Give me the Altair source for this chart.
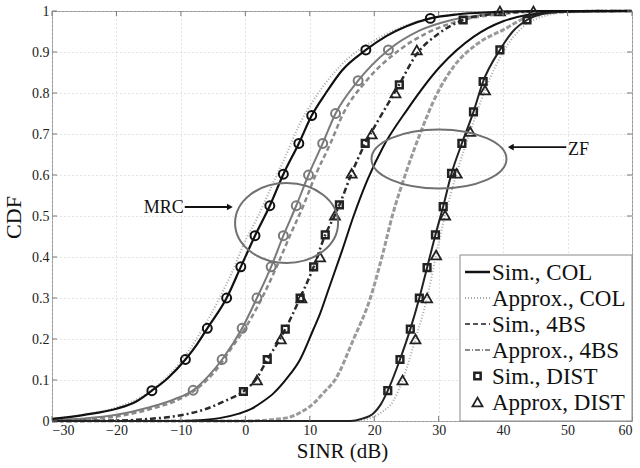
import altair as alt
import pandas as pd

FONT = "Liberation Serif"

# ---------------- data ----------------
x_ticks = [-30, -20, -10, 0, 10, 20, 30, 40, 50, 60]
y_ticks = [0, 0.1, 0.2, 0.3, 0.4, 0.5, 0.6, 0.7, 0.8, 0.9, 1.0]

# MRC, collocated - simulation (black solid, circles)
mrc_col_sim_x = [-30, -25, -20, -17, -14.5, -12, -9.3, -7.5, -5.9, -2.9, -0.7, 1.5, 3.8, 5.9, 8.3, 10.3, 12.5, 15, 18.7, 22, 25, 28.7, 33, 38, 45, 60]
mrc_col_sim_y = [0.005, 0.015, 0.03, 0.047, 0.074, 0.105, 0.15, 0.187, 0.226, 0.3, 0.376, 0.452, 0.525, 0.602, 0.677, 0.745, 0.8, 0.855, 0.905, 0.94, 0.963, 0.982, 0.992, 0.997, 1.0, 1.0]
mrc_col_mk_x = [-14.5, -9.3, -5.9, -2.9, -0.7, 1.5, 3.8, 5.9, 8.3, 10.3, 18.7, 28.7]
mrc_col_mk_y = [0.074, 0.15, 0.226, 0.3, 0.376, 0.452, 0.525, 0.602, 0.677, 0.745, 0.905, 0.982]

# MRC, collocated - approximation (dotted light gray)
mrc_col_apx_x = [-30, -25, -20, -15, -10, -7, -4, -2, 0, 2, 4, 6.3, 8.3, 10.5, 13, 16, 20, 25, 30, 36, 45, 60]
mrc_col_apx_y = [0.005, 0.016, 0.033, 0.07, 0.145, 0.215, 0.3, 0.365, 0.44, 0.5, 0.57, 0.648, 0.72, 0.78, 0.835, 0.885, 0.928, 0.965, 0.986, 0.996, 1.0, 1.0]

# MRC, 4BS - gray solid with gray circles
mrc_4bs_x = [-30, -25, -20, -15, -11, -8.1, -5.7, -3.6, -0.5, 1.8, 4.0, 5.9, 7.9, 9.8, 12.0, 14.0, 17.5, 22.2, 27, 32, 38, 45, 60]
mrc_4bs_y = [0.002, 0.006, 0.015, 0.033, 0.053, 0.075, 0.11, 0.15, 0.226, 0.3, 0.376, 0.452, 0.525, 0.6, 0.677, 0.75, 0.83, 0.905, 0.952, 0.978, 0.993, 0.999, 1.0]
mrc_4bs_mk_x = [-8.1, -3.6, -0.5, 1.8, 4.0, 5.9, 7.9, 9.8, 12.0, 14.0, 17.5, 22.2]
mrc_4bs_mk_y = [0.075, 0.15, 0.226, 0.3, 0.376, 0.452, 0.525, 0.6, 0.677, 0.75, 0.83, 0.905]

# MRC, 4BS - gray dashed
mrc_4bs_d_x = [-30, -25, -20, -15, -10, -7, -4.5, -2.5, 0.5, 2.9, 5.1, 7.0, 9.0, 10.9, 13.2, 15.2, 18.8, 23.5, 28, 33, 40, 47, 60]
mrc_4bs_d_y = [0.001, 0.004, 0.011, 0.028, 0.055, 0.085, 0.125, 0.17, 0.24, 0.31, 0.385, 0.455, 0.525, 0.6, 0.677, 0.75, 0.83, 0.9, 0.945, 0.975, 0.993, 0.999, 1.0]

# MRC, distributed - dash-dot dark with squares / triangles
mrc_dist_x = [-30, -20, -15, -10, -6, -3, -0.3, 1.8, 3.4, 5.0, 6.2, 8.5, 10.6, 12.4, 13.9, 14.6, 16.5, 18.6, 20.5, 23.5, 26.6, 30, 33.8, 38, 45, 60]
mrc_dist_y = [0.0, 0.001, 0.005, 0.014, 0.03, 0.05, 0.072, 0.105, 0.15, 0.19, 0.224, 0.3, 0.376, 0.454, 0.502, 0.527, 0.604, 0.677, 0.73, 0.81, 0.895, 0.945, 0.978, 0.992, 0.999, 1.0]
mrc_dist_sq_x = [-0.3, 3.4, 6.2, 8.5, 10.6, 12.4, 14.6, 18.6, 23.9, 33.8]
mrc_dist_sq_y = [0.072, 0.15, 0.224, 0.3, 0.376, 0.454, 0.527, 0.677, 0.82, 0.978]
mrc_dist_tr_x = [1.8, 5.5, 8.7, 11.6, 13.9, 16.5, 19.6, 23.3, 26.6, 39.5]
mrc_dist_tr_y = [0.1, 0.2, 0.3, 0.4, 0.502, 0.604, 0.70, 0.80, 0.905, 1.0]

# ZF, collocated - black solid
zf_col_x = [-30, -10, -7, -4, -1, 1, 2.5, 4.4, 6.5, 8.5, 10.6, 11.6, 13, 15, 16.8, 19, 21.4, 25.1, 30.2, 35.4, 40, 43.7, 50, 60]
zf_col_y = [0.0, 0.0, 0.002, 0.007, 0.018, 0.03, 0.045, 0.068, 0.105, 0.15, 0.225, 0.262, 0.325, 0.415, 0.5, 0.59, 0.669, 0.759, 0.864, 0.937, 0.975, 0.99, 0.999, 1.0]

# ZF, 4BS - gray thick dashed
zf_4bs_x = [-30, 0, 4, 7, 9, 10.6, 12.2, 13.9, 16.8, 19.4, 21.2, 22.8, 24.8, 27.1, 29.5, 32.3, 36, 40, 44.7, 50, 60]
zf_4bs_y = [0.0, 0.0, 0.003, 0.01, 0.025, 0.043, 0.07, 0.1, 0.2, 0.3, 0.4, 0.5, 0.6, 0.7, 0.79, 0.864, 0.92, 0.954, 0.99, 0.998, 1.0]

# ZF, distributed - black solid with squares, dotted approx with triangles
zf_dist_x = [-30, 16.3, 18, 19.9, 21, 22.1, 24.0, 25.6, 27.0, 28.2, 29.5, 30.7, 32.0, 33.6, 35.4, 36.9, 39.5, 41.5, 43.7, 47, 52, 60]
zf_dist_y = [0.0, 0.0, 0.005, 0.019, 0.04, 0.074, 0.15, 0.224, 0.3, 0.374, 0.454, 0.523, 0.604, 0.677, 0.754, 0.828, 0.905, 0.95, 0.978, 0.995, 1.0, 1.0]
zf_dist_sq_x = [22.1, 24.0, 25.6, 27.0, 28.2, 29.5, 30.7, 32.0, 33.6, 35.4, 36.9, 39.5, 43.7]
zf_dist_sq_y = [0.074, 0.15, 0.224, 0.3, 0.374, 0.454, 0.523, 0.604, 0.677, 0.754, 0.828, 0.905, 0.978]
zf_dist_apx_x = [-30, 17, 19, 21, 23, 24.4, 26.4, 28.2, 29.6, 31, 32.8, 34.9, 37.2, 40, 43, 47, 52, 60]
zf_dist_apx_y = [0, 0, 0.005, 0.02, 0.05, 0.1, 0.2, 0.3, 0.405, 0.502, 0.604, 0.706, 0.807, 0.9, 0.96, 0.99, 1.0, 1.0]
zf_dist_tr_x = [24.4, 26.4, 28.2, 29.6, 31, 32.8, 34.9, 37.2, 44.7]
zf_dist_tr_y = [0.1, 0.2, 0.3, 0.405, 0.502, 0.604, 0.706, 0.807, 1.0]

legend_labels = ["Sim., COL", "Approx., COL", "Sim., 4BS", "Approx., 4BS", "Sim., DIST", "Approx, DIST"]

# annotations (data coordinates)
mrc_ellipse = {"x": 6.4, "y": 0.483}
zf_ellipse = {"x": 30.05, "y": 0.639}
mrc_label = {"x": -9.4, "y": 0.507, "text": "MRC"}
zf_label = {"x": 49.9, "y": 0.649, "text": "ZF"}
mrc_arrow = {"x": -9.4, "x2": -2.4, "y": 0.522}
zf_arrow = {"x": 49.8, "x2": 41.2, "y": 0.668}

# ---------------- chart ----------------
W, H = 580, 410
xs = alt.Scale(domain=[-30, 60], nice=False, zero=False)
ys = alt.Scale(domain=[0, 1], nice=False)
x_axis = alt.Axis(values=x_ticks, title="SINR (dB)", titleY=36, titleBaseline="alphabetic",
                  labelPadding=2, format="d", titleFontSize=21)
y_axis = alt.Axis(values=y_ticks, title="CDF", titleX=-27, titleY=206, titleBaseline="bottom",
                  labelPadding=3, format=".1~f")


def XF(field):
    return alt.X(f"{field}:Q", scale=xs, axis=x_axis)


X = XF("x")
Y = alt.Y("y:Q", scale=ys, axis=y_axis)


def df(xv, yv):
    return pd.DataFrame({"x": xv, "y": yv})


def line(xv, yv, color, width, dash=None):
    kw = dict(color=color, strokeWidth=width, interpolate="monotone")
    if dash:
        kw["strokeDash"] = dash
    return alt.Chart(df(xv, yv)).mark_line(**kw).encode(x=X, y=Y)


def pts(xv, yv, shape, color, size, sw):
    kw = dict(shape=shape, size=size, strokeWidth=sw, stroke=color, opacity=1, filled=False)
    return alt.Chart(df(xv, yv)).mark_point(**kw).encode(x=X, y=Y)


layers = []
# gray curves first
layers.append(line(zf_4bs_x, zf_4bs_y, "#9a9a9a", 3, [5, 2]))
layers.append(line(mrc_col_apx_x, mrc_col_apx_y, "#a8a8a8", 2, [1, 2]))
layers.append(line(zf_dist_apx_x, zf_dist_apx_y, "#a8a8a8", 2, [1, 2]))
layers.append(line(mrc_4bs_d_x, mrc_4bs_d_y, "#8a8a8a", 2.5, [5, 3]))
layers.append(line(mrc_4bs_x, mrc_4bs_y, "#7a7a7a", 2))
layers.append(pts(mrc_4bs_mk_x, mrc_4bs_mk_y, "circle", "#7a7a7a", 80, 2))
# dark curves
layers.append(line(mrc_dist_x, mrc_dist_y, "#2a2a2a", 2.5, [6, 3, 2, 3]))
layers.append(line(zf_col_x, zf_col_y, "#111111", 2))
layers.append(line(zf_dist_x, zf_dist_y, "#222222", 2))
layers.append(line(mrc_col_sim_x, mrc_col_sim_y, "#111111", 2.2))
layers.append(pts(mrc_col_mk_x, mrc_col_mk_y, "circle", "#111111", 80, 2))
layers.append(pts(mrc_dist_sq_x, mrc_dist_sq_y, "square", "#222222", 45, 2.5))
layers.append(pts(zf_dist_sq_x, zf_dist_sq_y, "square", "#222222", 45, 2.5))
layers.append(pts(mrc_dist_tr_x, mrc_dist_tr_y, "triangle-up", "#222222", 100, 1.8))
layers.append(pts(zf_dist_tr_x, zf_dist_tr_y, "triangle-up", "#222222", 100, 1.8))

# inward ticks on all four sides
xt = pd.DataFrame({"x": x_ticks})
yt = pd.DataFrame({"y": y_ticks})
tick_color = "#777777"
layers.append(alt.Chart(xt).mark_rule(color=tick_color).encode(x=X, y=alt.value(H), y2=alt.value(H - 5)))
layers.append(alt.Chart(xt).mark_rule(color=tick_color).encode(x=X, y=alt.value(0), y2=alt.value(5)))
layers.append(alt.Chart(yt).mark_rule(color=tick_color).encode(y=Y, x=alt.value(0), x2=alt.value(5)))
layers.append(alt.Chart(yt).mark_rule(color=tick_color).encode(y=Y, x=alt.value(W), x2=alt.value(W - 5)))

# ellipses
ell_color = "#707070"
layers.append(alt.Chart(pd.DataFrame([mrc_ellipse])).mark_point(
    shape="M -1 0 A 1 0.777 0 1 1 1 0 A 1 0.777 0 1 1 -1 0 Z",
    size=103 * 103, filled=False, stroke=ell_color, strokeWidth=2, opacity=1).encode(x=X, y=Y))
layers.append(alt.Chart(pd.DataFrame([zf_ellipse])).mark_point(
    shape="M -1 0 A 1 0.437 0 1 1 1 0 A 1 0.437 0 1 1 -1 0 Z",
    size=135 * 135, filled=False, stroke=ell_color, strokeWidth=2, opacity=1).encode(x=X, y=Y))

# arrows + labels
for arr, shp in ((mrc_arrow, "triangle-right"), (zf_arrow, "triangle-left")):
    a = pd.DataFrame([arr])
    layers.append(alt.Chart(a).mark_rule(color="#111", strokeWidth=1.8).encode(
        x=X, x2="x2:Q", y=Y))
    layers.append(alt.Chart(a).mark_point(shape=shp, filled=True, color="#111", size=45, opacity=1).encode(
        x=XF("x2"), y=Y))

layers.append(alt.Chart(pd.DataFrame([mrc_label])).mark_text(
    font=FONT, fontSize=18, align="right", baseline="alphabetic", color="#111", dx=-1).encode(
    x=X, y=Y, text="text:N"))
layers.append(alt.Chart(pd.DataFrame([zf_label])).mark_text(
    font=FONT, fontSize=18, align="left", baseline="alphabetic", color="#111", dx=1).encode(
    x=X, y=Y, text="text:N"))

# legend (manual, MATLAB style box at lower right)
one = pd.DataFrame({"k": [0]})
box_l, box_r, box_t, box_b = 408, W, 244, H
layers.append(alt.Chart(one).mark_rect(fill="white", stroke="#888888", strokeWidth=1).encode(
    x=alt.value(box_l), x2=alt.value(box_r), y=alt.value(box_t), y2=alt.value(box_b)))
row_y = [261, 287, 313, 339, 365, 391]
sym_l, sym_r, txt_x = 413, 438, 440
legend_line_styles = [
    ("#111111", 2.5, None),
    ("#a8a8a8", 2, [1, 2]),
    ("#555555", 2, [5, 3]),
    ("#8a8a8a", 2, [5, 2, 1, 2]),
]
for i, (col, w, dash) in enumerate(legend_line_styles):
    kw = dict(color=col, strokeWidth=w)
    if dash:
        kw["strokeDash"] = dash
    layers.append(alt.Chart(one).mark_rule(**kw).encode(
        x=alt.value(sym_l), x2=alt.value(sym_r), y=alt.value(row_y[i])))
layers.append(alt.Chart(one).mark_point(shape="square", filled=False, stroke="#222", strokeWidth=2.5,
                                        size=40, opacity=1).encode(
    x=alt.value((sym_l + sym_r) / 2), y=alt.value(row_y[4])))
layers.append(alt.Chart(one).mark_point(shape="triangle-up", filled=False, stroke="#222", strokeWidth=1.8,
                                        size=100, opacity=1).encode(
    x=alt.value((sym_l + sym_r) / 2), y=alt.value(row_y[5])))
for i, lab in enumerate(legend_labels):
    layers.append(alt.Chart(one).mark_text(text=lab, font=FONT, fontSize=23, align="left",
                                           baseline="middle", color="#111").encode(
        x=alt.value(txt_x), y=alt.value(row_y[i] + 1)))

chart = alt.layer(*layers).properties(
    width=W, height=H,
    autosize=alt.AutoSizeParams(type="none"),
    padding={"left": 52, "top": 11, "right": 8, "bottom": 47},
).configure_view(stroke="#999999", strokeWidth=1).configure_axis(
    domain=False, ticks=False, grid=True, gridColor="#c8c8c8", gridDash=[1, 3], gridWidth=1,
    labelFont=FONT, labelFontSize=14, labelColor="#222222",
    titleFont=FONT, titleFontSize=22, titleColor="#111111", titleFontWeight="normal",
)

chart.save("out.html", embed_options={"renderer": "svg", "actions": False})
